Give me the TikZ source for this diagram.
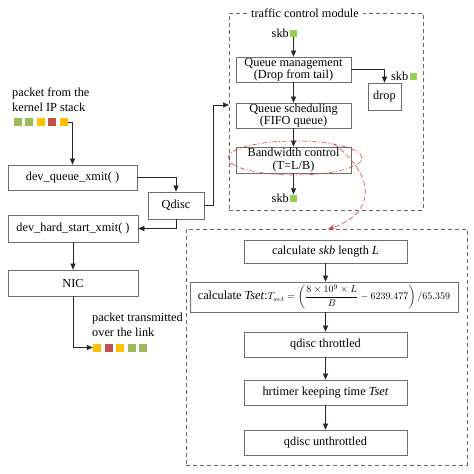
\documentclass[tikz,border=0pt]{standalone}
\usepackage{fontspec}
\setmainfont{Liberation Serif}
\usetikzlibrary{arrows.meta,shapes.geometric}
\definecolor{pgreen}{HTML}{9BBB59}
\definecolor{pyellow}{HTML}{FFC000}
\definecolor{pred}{HTML}{C0504D}
\definecolor{skbg}{HTML}{92D050}
\definecolor{boxline}{HTML}{6E6E6E}
\definecolor{redline}{HTML}{E8413C}
\begin{document}
\begin{tikzpicture}[x=1pt,y=-1pt,
 box/.style={draw=boxline, line width=0.7pt, fill=white, inner sep=0pt, align=center, font=\fontsize{12.3}{12.3}\selectfont},
 arr/.style={-{Triangle[length=6pt,width=5pt]}, line width=0.6pt, draw=black!85},
 txt/.style={inner sep=0pt, font=\fontsize{12.3}{15}\selectfont},
 sq/.style={minimum size=8pt, inner sep=0pt, fill=#1},
 ssq/.style={minimum size=7pt, inner sep=0pt, fill=skbg},
 dbox/.style={draw=black!60, line width=0.8pt, dash pattern=on 4pt off 3pt, inner sep=0pt}]
\useasboundingbox (0,0) rectangle (474,474);
\fill[white] (0,0) rectangle (474,474);

% dashed module boxes
\node[dbox, minimum width=194pt, minimum height=197pt] (tcm) at (326,111.5) {};
\node[dbox, minimum width=281pt, minimum height=236pt] (low) at (326.5,347) {};
\node[txt, fill=white, inner xsep=4pt, inner ysep=1pt] (title) at (305,13) {traffic control module};

% left column
\node[txt, anchor=north west, align=left] (src) at (12,88) {packet from the\\kernel IP stack};
\node[sq=pgreen] (p1) at (17.5,122) {};
\node[sq=pgreen] (p2) at (29,122) {};
\node[sq=pyellow] (p3) at (40.5,122) {};
\node[sq=pred] (p4) at (52,122) {};
\node[sq=pyellow] (p5) at (63.5,122) {};

\node[box, minimum width=129pt, minimum height=25pt] (dq) at (72.5,177.5) {dev\_queue\_xmit( )};
\node[box, minimum width=56pt, minimum height=27pt] (qd) at (176,205.5) {Qdisc};
\node[box, minimum width=130pt, minimum height=27pt] (dh) at (73,228.5) {dev\_hard\_start\_xmit( )};
\node[box, minimum width=130pt, minimum height=26pt] (nic) at (73,283) {NIC};

\node[txt, anchor=north west, align=left] (dst) at (92,313) {packet transmitted\\over the link};
\node[sq=pyellow] (q1) at (97,347.5) {};
\node[sq=pred] (q2) at (108.5,347.5) {};
\node[sq=pyellow] (q3) at (120,347.5) {};
\node[sq=pgreen] (q4) at (131.5,347.5) {};
\node[sq=pgreen] (q5) at (143,347.5) {};

\coordinate (tin) at (229,105);
\draw[arr] (p5.east) -| (dq.north);
\draw[arr] (dq.east) -| (qd.north);
\draw[arr] (qd.east) -- ++(9,0) |- (tin);
\draw[arr] (qd.south) |- (dh.east);
\draw[arr] (dh.south) -- (nic.north);
\draw[arr] (nic.south) |- (q1.west);

% traffic control module
\node[txt, anchor=east] (skb1t) at (289,33) {skb};
\node[ssq] (skb1) at (293.5,33) {};
\node[box, minimum width=115pt, minimum height=25pt] (qm) at (293.5,69.5) {Queue management\\(Drop from tail)};
\node[box, minimum width=33pt, minimum height=27pt] (drop) at (384.5,96.5) {drop};
\node[txt, anchor=west] (skb2t) at (391,76) {skb};
\node[ssq] (skb2) at (413.5,76) {};
\node[box, minimum width=115pt, minimum height=25pt] (qs) at (293.5,115.5) {Queue scheduling\\(FIFO queue)};
\node[box, minimum width=115pt, minimum height=26pt] (bw) at (293.5,160) {Bandwidth control\\(T=L/B)};
\node[txt, anchor=east] (skb3t) at (289,198) {skb};
\node[ssq] (skb3) at (293.5,198) {};

\draw[arr] (skb1.south) -- (qm.north);
\draw[arr] (qm.east) -| (drop.north);
\draw[arr] (qm.south) -- (qs.north);
\draw[arr] (qs.south) -- (bw.north);
\draw[arr] (bw.south) -- (skb3.north);

\node[ellipse, draw=redline, line width=0.6pt, dash pattern=on 5pt off 2pt on 1pt off 2pt, minimum width=134pt, minimum height=34pt, inner sep=0pt] (bwell) at (295,158) {};
\coordinate (lowin) at (328,229);
\draw[draw=redline, line width=0.6pt, dash pattern=on 5pt off 3pt, -{Stealth[length=7pt,width=5pt]}] (bwell.20) .. controls (378,178) and (374,214) .. (lowin);

% lower flow
\node[box, minimum width=163pt, minimum height=23pt] (c1) at (325.5,251.5) {calculate \textit{skb} length \textit{L}};
\node[box, minimum width=268pt, minimum height=30pt] (c2) at (324,297) {calculate \textit{Tset}:{\fontsize{9.6}{12}\selectfont$T_{set}=\left(\displaystyle\frac{8\times10^9\times L}{B}-6239.477\right)/65.359$}};
\node[box, minimum width=163pt, minimum height=25pt] (c3) at (325.5,344.5) {qdisc throttled};
\node[box, minimum width=163pt, minimum height=25pt] (c4) at (325.5,392.5) {hrtimer keeping time \textit{Tset}};
\node[box, minimum width=163pt, minimum height=25pt] (c5) at (325.5,442.5) {qdisc unthrottled};

\draw[arr] (c1.south) -- (c1.south |- c2.north);
\draw[arr] (c2.south -| c3.north) -- (c3.north);
\draw[arr] (c3.south) -- (c4.north);
\draw[arr] (c4.south) -- (c5.north);
\end{tikzpicture}
\end{document}
